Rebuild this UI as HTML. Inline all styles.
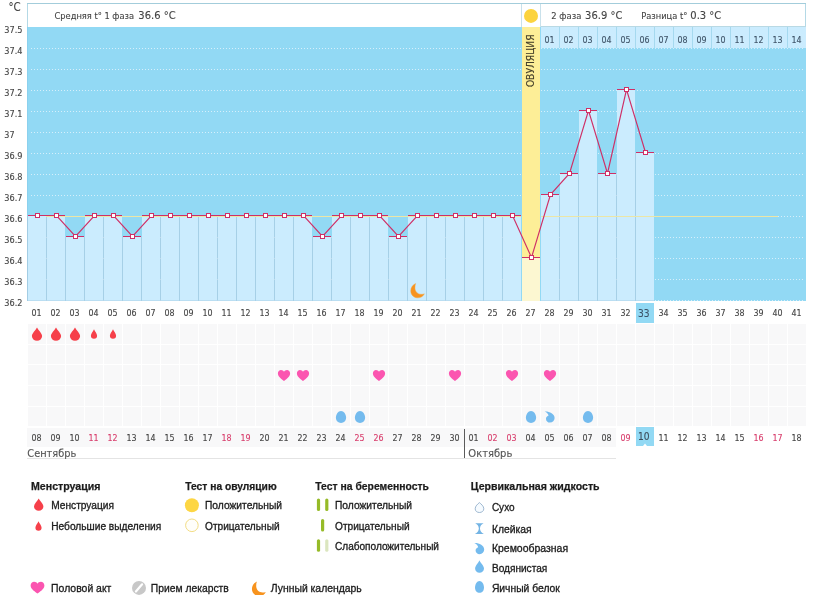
<!DOCTYPE html>
<html lang="ru"><head><meta charset="utf-8"><title>График базальной температуры</title>
<style>html,body{margin:0;padding:0;background:#fff}body{width:815px;height:595px;overflow:hidden}svg{display:block}</style></head><body>
<svg width="815" height="595" viewBox="0 0 815 595">
<rect x="0" y="0" width="815" height="595" fill="#fff"/>
<g shape-rendering="crispEdges">
<rect x="27" y="3" width="779" height="24" fill="#fff"/>
<rect x="27" y="3" width="779" height="1" fill="#a3cddb"/>
<rect x="27" y="4" width="1" height="23" fill="#b4d9e6"/>
<rect x="805" y="4" width="1" height="23" fill="#b4d9e6"/>
<rect x="521" y="4" width="1" height="23" fill="#c9e1eb"/>
<rect x="540" y="4" width="1" height="23" fill="#c9e1eb"/>
<rect x="541" y="26" width="265" height="1" fill="#b9d9e4"/>
<rect x="27" y="27" width="779" height="274" fill="#92d9f4"/>
<rect x="27" y="27" width="1" height="274" fill="#8bd1ee"/>
<rect x="522" y="27" width="18" height="274" fill="#fdee97"/>
<rect x="541" y="27" width="265" height="21" fill="#cbecfe"/>
<rect x="559" y="27" width="1" height="21" fill="#a5d9ef"/>
<rect x="578" y="27" width="1" height="21" fill="#a5d9ef"/>
<rect x="597" y="27" width="1" height="21" fill="#a5d9ef"/>
<rect x="616" y="27" width="1" height="21" fill="#a5d9ef"/>
<rect x="635" y="27" width="1" height="21" fill="#a5d9ef"/>
<rect x="654" y="27" width="1" height="21" fill="#a5d9ef"/>
<rect x="673" y="27" width="1" height="21" fill="#a5d9ef"/>
<rect x="692" y="27" width="1" height="21" fill="#a5d9ef"/>
<rect x="711" y="27" width="1" height="21" fill="#a5d9ef"/>
<rect x="730" y="27" width="1" height="21" fill="#a5d9ef"/>
<rect x="749" y="27" width="1" height="21" fill="#a5d9ef"/>
<rect x="768" y="27" width="1" height="21" fill="#a5d9ef"/>
<rect x="787" y="27" width="1" height="21" fill="#a5d9ef"/>
<line x1="31" y1="48.5" x2="521" y2="48.5" stroke="#d6effb" stroke-width="1" stroke-dasharray="1 2"/>
<line x1="541" y1="48.5" x2="804" y2="48.5" stroke="#d6effb" stroke-width="1" stroke-dasharray="1 2"/>
<line x1="31" y1="69.5" x2="521" y2="69.5" stroke="#d6effb" stroke-width="1" stroke-dasharray="1 2"/>
<line x1="541" y1="69.5" x2="804" y2="69.5" stroke="#d6effb" stroke-width="1" stroke-dasharray="1 2"/>
<line x1="31" y1="90.5" x2="521" y2="90.5" stroke="#d6effb" stroke-width="1" stroke-dasharray="1 2"/>
<line x1="541" y1="90.5" x2="804" y2="90.5" stroke="#d6effb" stroke-width="1" stroke-dasharray="1 2"/>
<line x1="31" y1="111.5" x2="521" y2="111.5" stroke="#d6effb" stroke-width="1" stroke-dasharray="1 2"/>
<line x1="541" y1="111.5" x2="804" y2="111.5" stroke="#d6effb" stroke-width="1" stroke-dasharray="1 2"/>
<line x1="31" y1="132.5" x2="521" y2="132.5" stroke="#d6effb" stroke-width="1" stroke-dasharray="1 2"/>
<line x1="541" y1="132.5" x2="804" y2="132.5" stroke="#d6effb" stroke-width="1" stroke-dasharray="1 2"/>
<line x1="31" y1="153.5" x2="521" y2="153.5" stroke="#d6effb" stroke-width="1" stroke-dasharray="1 2"/>
<line x1="541" y1="153.5" x2="804" y2="153.5" stroke="#d6effb" stroke-width="1" stroke-dasharray="1 2"/>
<line x1="31" y1="174.5" x2="521" y2="174.5" stroke="#d6effb" stroke-width="1" stroke-dasharray="1 2"/>
<line x1="541" y1="174.5" x2="804" y2="174.5" stroke="#d6effb" stroke-width="1" stroke-dasharray="1 2"/>
<line x1="31" y1="195.5" x2="521" y2="195.5" stroke="#d6effb" stroke-width="1" stroke-dasharray="1 2"/>
<line x1="541" y1="195.5" x2="804" y2="195.5" stroke="#d6effb" stroke-width="1" stroke-dasharray="1 2"/>
<line x1="31" y1="216.5" x2="521" y2="216.5" stroke="#d6effb" stroke-width="1" stroke-dasharray="1 2"/>
<line x1="541" y1="216.5" x2="804" y2="216.5" stroke="#d6effb" stroke-width="1" stroke-dasharray="1 2"/>
<line x1="31" y1="237.5" x2="521" y2="237.5" stroke="#d6effb" stroke-width="1" stroke-dasharray="1 2"/>
<line x1="541" y1="237.5" x2="804" y2="237.5" stroke="#d6effb" stroke-width="1" stroke-dasharray="1 2"/>
<line x1="31" y1="258.5" x2="521" y2="258.5" stroke="#d6effb" stroke-width="1" stroke-dasharray="1 2"/>
<line x1="541" y1="258.5" x2="804" y2="258.5" stroke="#d6effb" stroke-width="1" stroke-dasharray="1 2"/>
<line x1="31" y1="279.5" x2="521" y2="279.5" stroke="#d6effb" stroke-width="1" stroke-dasharray="1 2"/>
<line x1="541" y1="279.5" x2="804" y2="279.5" stroke="#d6effb" stroke-width="1" stroke-dasharray="1 2"/>
<line x1="31" y1="300.5" x2="521" y2="300.5" stroke="#d6effb" stroke-width="1" stroke-dasharray="1 2"/>
<line x1="541" y1="300.5" x2="804" y2="300.5" stroke="#d6effb" stroke-width="1" stroke-dasharray="1 2"/>
<rect x="46" y="216" width="475" height="1" fill="#e9e3a4"/>
<rect x="28" y="216" width="18" height="85" fill="#cbecfe"/>
<rect x="47" y="216" width="18" height="85" fill="#cbecfe"/>
<rect x="66" y="237" width="18" height="64" fill="#cbecfe"/>
<rect x="85" y="216" width="18" height="85" fill="#cbecfe"/>
<rect x="104" y="216" width="18" height="85" fill="#cbecfe"/>
<rect x="123" y="237" width="18" height="64" fill="#cbecfe"/>
<rect x="142" y="216" width="18" height="85" fill="#cbecfe"/>
<rect x="161" y="216" width="18" height="85" fill="#cbecfe"/>
<rect x="180" y="216" width="18" height="85" fill="#cbecfe"/>
<rect x="199" y="216" width="18" height="85" fill="#cbecfe"/>
<rect x="218" y="216" width="18" height="85" fill="#cbecfe"/>
<rect x="237" y="216" width="18" height="85" fill="#cbecfe"/>
<rect x="256" y="216" width="18" height="85" fill="#cbecfe"/>
<rect x="275" y="216" width="18" height="85" fill="#cbecfe"/>
<rect x="294" y="216" width="18" height="85" fill="#cbecfe"/>
<rect x="313" y="237" width="18" height="64" fill="#cbecfe"/>
<rect x="332" y="216" width="18" height="85" fill="#cbecfe"/>
<rect x="351" y="216" width="18" height="85" fill="#cbecfe"/>
<rect x="370" y="216" width="18" height="85" fill="#cbecfe"/>
<rect x="389" y="237" width="18" height="64" fill="#cbecfe"/>
<rect x="408" y="216" width="18" height="85" fill="#cbecfe"/>
<rect x="427" y="216" width="18" height="85" fill="#cbecfe"/>
<rect x="446" y="216" width="18" height="85" fill="#cbecfe"/>
<rect x="465" y="216" width="18" height="85" fill="#cbecfe"/>
<rect x="484" y="216" width="18" height="85" fill="#cbecfe"/>
<rect x="503" y="216" width="18" height="85" fill="#cbecfe"/>
<rect x="522" y="258" width="18" height="43" fill="#fcf7d1"/>
<rect x="541" y="195" width="18" height="106" fill="#cbecfe"/>
<rect x="560" y="174" width="18" height="127" fill="#cbecfe"/>
<rect x="579" y="111" width="18" height="190" fill="#cbecfe"/>
<rect x="598" y="174" width="18" height="127" fill="#cbecfe"/>
<rect x="617" y="90" width="18" height="211" fill="#cbecfe"/>
<rect x="636" y="153" width="18" height="148" fill="#cbecfe"/>
<rect x="46" y="216" width="1" height="85" fill="#b4cadd" opacity="0.6"/>
<rect x="65" y="237" width="1" height="64" fill="#b4cadd" opacity="0.6"/>
<rect x="84" y="237" width="1" height="64" fill="#b4cadd" opacity="0.6"/>
<rect x="103" y="216" width="1" height="85" fill="#b4cadd" opacity="0.6"/>
<rect x="122" y="237" width="1" height="64" fill="#b4cadd" opacity="0.6"/>
<rect x="141" y="237" width="1" height="64" fill="#b4cadd" opacity="0.6"/>
<rect x="160" y="216" width="1" height="85" fill="#b4cadd" opacity="0.6"/>
<rect x="179" y="216" width="1" height="85" fill="#b4cadd" opacity="0.6"/>
<rect x="198" y="216" width="1" height="85" fill="#b4cadd" opacity="0.6"/>
<rect x="217" y="216" width="1" height="85" fill="#b4cadd" opacity="0.6"/>
<rect x="236" y="216" width="1" height="85" fill="#b4cadd" opacity="0.6"/>
<rect x="255" y="216" width="1" height="85" fill="#b4cadd" opacity="0.6"/>
<rect x="274" y="216" width="1" height="85" fill="#b4cadd" opacity="0.6"/>
<rect x="293" y="216" width="1" height="85" fill="#b4cadd" opacity="0.6"/>
<rect x="312" y="237" width="1" height="64" fill="#b4cadd" opacity="0.6"/>
<rect x="331" y="237" width="1" height="64" fill="#b4cadd" opacity="0.6"/>
<rect x="350" y="216" width="1" height="85" fill="#b4cadd" opacity="0.6"/>
<rect x="369" y="216" width="1" height="85" fill="#b4cadd" opacity="0.6"/>
<rect x="388" y="237" width="1" height="64" fill="#b4cadd" opacity="0.6"/>
<rect x="407" y="237" width="1" height="64" fill="#b4cadd" opacity="0.6"/>
<rect x="426" y="216" width="1" height="85" fill="#b4cadd" opacity="0.6"/>
<rect x="445" y="216" width="1" height="85" fill="#b4cadd" opacity="0.6"/>
<rect x="464" y="216" width="1" height="85" fill="#b4cadd" opacity="0.6"/>
<rect x="483" y="216" width="1" height="85" fill="#b4cadd" opacity="0.6"/>
<rect x="502" y="216" width="1" height="85" fill="#b4cadd" opacity="0.6"/>
<rect x="559" y="195" width="1" height="106" fill="#b4cadd" opacity="0.6"/>
<rect x="578" y="174" width="1" height="127" fill="#b4cadd" opacity="0.6"/>
<rect x="597" y="174" width="1" height="127" fill="#b4cadd" opacity="0.6"/>
<rect x="616" y="174" width="1" height="127" fill="#b4cadd" opacity="0.6"/>
<rect x="635" y="153" width="1" height="148" fill="#b4cadd" opacity="0.6"/>
<rect x="27" y="216" width="1" height="85" fill="#b4cadd" opacity="0.6"/>
<rect x="28" y="300" width="493" height="1" fill="#a9cfe6" opacity="0.5"/>
<rect x="541" y="300" width="113" height="1" fill="#a9cfe6" opacity="0.5"/>
<rect x="46" y="216" width="475" height="1" fill="#ece6a6"/>
<rect x="541" y="216" width="237" height="1" fill="#ece6a6"/>
<rect x="28" y="215" width="18" height="1" fill="#cf2f66"/>
<rect x="47" y="215" width="18" height="1" fill="#cf2f66"/>
<rect x="66" y="236" width="18" height="1" fill="#cf2f66"/>
<rect x="85" y="215" width="18" height="1" fill="#cf2f66"/>
<rect x="104" y="215" width="18" height="1" fill="#cf2f66"/>
<rect x="123" y="236" width="18" height="1" fill="#cf2f66"/>
<rect x="142" y="215" width="18" height="1" fill="#cf2f66"/>
<rect x="161" y="215" width="18" height="1" fill="#cf2f66"/>
<rect x="180" y="215" width="18" height="1" fill="#cf2f66"/>
<rect x="199" y="215" width="18" height="1" fill="#cf2f66"/>
<rect x="218" y="215" width="18" height="1" fill="#cf2f66"/>
<rect x="237" y="215" width="18" height="1" fill="#cf2f66"/>
<rect x="256" y="215" width="18" height="1" fill="#cf2f66"/>
<rect x="275" y="215" width="18" height="1" fill="#cf2f66"/>
<rect x="294" y="215" width="18" height="1" fill="#cf2f66"/>
<rect x="313" y="236" width="18" height="1" fill="#cf2f66"/>
<rect x="332" y="215" width="18" height="1" fill="#cf2f66"/>
<rect x="351" y="215" width="18" height="1" fill="#cf2f66"/>
<rect x="370" y="215" width="18" height="1" fill="#cf2f66"/>
<rect x="389" y="236" width="18" height="1" fill="#cf2f66"/>
<rect x="408" y="215" width="18" height="1" fill="#cf2f66"/>
<rect x="427" y="215" width="18" height="1" fill="#cf2f66"/>
<rect x="446" y="215" width="18" height="1" fill="#cf2f66"/>
<rect x="465" y="215" width="18" height="1" fill="#cf2f66"/>
<rect x="484" y="215" width="18" height="1" fill="#cf2f66"/>
<rect x="503" y="215" width="18" height="1" fill="#cf2f66"/>
<rect x="522" y="257" width="18" height="1" fill="#cf2f66"/>
<rect x="541" y="194" width="18" height="1" fill="#cf2f66"/>
<rect x="560" y="173" width="18" height="1" fill="#cf2f66"/>
<rect x="579" y="110" width="18" height="1" fill="#cf2f66"/>
<rect x="598" y="173" width="18" height="1" fill="#cf2f66"/>
<rect x="617" y="89" width="18" height="1" fill="#cf2f66"/>
<rect x="636" y="152" width="18" height="1" fill="#cf2f66"/>
</g>
<polyline points="37.5,215.5 56.5,215.5 75.5,236.5 94.5,215.5 113.5,215.5 132.5,236.5 151.5,215.5 170.5,215.5 189.5,215.5 208.5,215.5 227.5,215.5 246.5,215.5 265.5,215.5 284.5,215.5 303.5,215.5 322.5,236.5 341.5,215.5 360.5,215.5 379.5,215.5 398.5,236.5 417.5,215.5 436.5,215.5 455.5,215.5 474.5,215.5 493.5,215.5 512.5,215.5 531.5,257.5 550.5,194.5 569.5,173.5 588.5,110.5 607.5,173.5 626.5,89.5 645.5,152.5" fill="none" stroke="#cf2f66" stroke-width="1.15"/>
<g fill="#fff" stroke="#cf2f66" stroke-width="1" shape-rendering="crispEdges">
<rect x="35.5" y="213.5" width="4" height="4"/>
<rect x="54.5" y="213.5" width="4" height="4"/>
<rect x="73.5" y="234.5" width="4" height="4"/>
<rect x="92.5" y="213.5" width="4" height="4"/>
<rect x="111.5" y="213.5" width="4" height="4"/>
<rect x="130.5" y="234.5" width="4" height="4"/>
<rect x="149.5" y="213.5" width="4" height="4"/>
<rect x="168.5" y="213.5" width="4" height="4"/>
<rect x="187.5" y="213.5" width="4" height="4"/>
<rect x="206.5" y="213.5" width="4" height="4"/>
<rect x="225.5" y="213.5" width="4" height="4"/>
<rect x="244.5" y="213.5" width="4" height="4"/>
<rect x="263.5" y="213.5" width="4" height="4"/>
<rect x="282.5" y="213.5" width="4" height="4"/>
<rect x="301.5" y="213.5" width="4" height="4"/>
<rect x="320.5" y="234.5" width="4" height="4"/>
<rect x="339.5" y="213.5" width="4" height="4"/>
<rect x="358.5" y="213.5" width="4" height="4"/>
<rect x="377.5" y="213.5" width="4" height="4"/>
<rect x="396.5" y="234.5" width="4" height="4"/>
<rect x="415.5" y="213.5" width="4" height="4"/>
<rect x="434.5" y="213.5" width="4" height="4"/>
<rect x="453.5" y="213.5" width="4" height="4"/>
<rect x="472.5" y="213.5" width="4" height="4"/>
<rect x="491.5" y="213.5" width="4" height="4"/>
<rect x="510.5" y="213.5" width="4" height="4"/>
<rect x="529.5" y="255.5" width="4" height="4"/>
<rect x="548.5" y="192.5" width="4" height="4"/>
<rect x="567.5" y="171.5" width="4" height="4"/>
<rect x="586.5" y="108.5" width="4" height="4"/>
<rect x="605.5" y="171.5" width="4" height="4"/>
<rect x="624.5" y="87.5" width="4" height="4"/>
<rect x="643.5" y="150.5" width="4" height="4"/>
</g>
<text x="8.4" y="10.8" font-size="11.6" fill="#444" stroke="#444" stroke-width="0.12" font-family="DejaVu Sans Condensed, DejaVu Sans, Liberation Sans, sans-serif" textLength="12.2" lengthAdjust="spacingAndGlyphs">°C</text>
<text x="4.3" y="33" font-size="9.5" fill="#444" stroke="#444" stroke-width="0.12" font-family="DejaVu Sans Condensed, DejaVu Sans, Liberation Sans, sans-serif" textLength="18.2" lengthAdjust="spacingAndGlyphs">37.5</text>
<text x="4.3" y="54" font-size="9.5" fill="#444" stroke="#444" stroke-width="0.12" font-family="DejaVu Sans Condensed, DejaVu Sans, Liberation Sans, sans-serif" textLength="18.2" lengthAdjust="spacingAndGlyphs">37.4</text>
<text x="4.3" y="75" font-size="9.5" fill="#444" stroke="#444" stroke-width="0.12" font-family="DejaVu Sans Condensed, DejaVu Sans, Liberation Sans, sans-serif" textLength="18.2" lengthAdjust="spacingAndGlyphs">37.3</text>
<text x="4.3" y="96" font-size="9.5" fill="#444" stroke="#444" stroke-width="0.12" font-family="DejaVu Sans Condensed, DejaVu Sans, Liberation Sans, sans-serif" textLength="18.2" lengthAdjust="spacingAndGlyphs">37.2</text>
<text x="4.3" y="117" font-size="9.5" fill="#444" stroke="#444" stroke-width="0.12" font-family="DejaVu Sans Condensed, DejaVu Sans, Liberation Sans, sans-serif" textLength="18.2" lengthAdjust="spacingAndGlyphs">37.1</text>
<text x="4.3" y="138" font-size="9.5" fill="#444" stroke="#444" stroke-width="0.12" font-family="DejaVu Sans Condensed, DejaVu Sans, Liberation Sans, sans-serif" textLength="10.2" lengthAdjust="spacingAndGlyphs">37</text>
<text x="4.3" y="159" font-size="9.5" fill="#444" stroke="#444" stroke-width="0.12" font-family="DejaVu Sans Condensed, DejaVu Sans, Liberation Sans, sans-serif" textLength="18.2" lengthAdjust="spacingAndGlyphs">36.9</text>
<text x="4.3" y="180" font-size="9.5" fill="#444" stroke="#444" stroke-width="0.12" font-family="DejaVu Sans Condensed, DejaVu Sans, Liberation Sans, sans-serif" textLength="18.2" lengthAdjust="spacingAndGlyphs">36.8</text>
<text x="4.3" y="201" font-size="9.5" fill="#444" stroke="#444" stroke-width="0.12" font-family="DejaVu Sans Condensed, DejaVu Sans, Liberation Sans, sans-serif" textLength="18.2" lengthAdjust="spacingAndGlyphs">36.7</text>
<text x="4.3" y="222" font-size="9.5" fill="#444" stroke="#444" stroke-width="0.12" font-family="DejaVu Sans Condensed, DejaVu Sans, Liberation Sans, sans-serif" textLength="18.2" lengthAdjust="spacingAndGlyphs">36.6</text>
<text x="4.3" y="243" font-size="9.5" fill="#444" stroke="#444" stroke-width="0.12" font-family="DejaVu Sans Condensed, DejaVu Sans, Liberation Sans, sans-serif" textLength="18.2" lengthAdjust="spacingAndGlyphs">36.5</text>
<text x="4.3" y="264" font-size="9.5" fill="#444" stroke="#444" stroke-width="0.12" font-family="DejaVu Sans Condensed, DejaVu Sans, Liberation Sans, sans-serif" textLength="18.2" lengthAdjust="spacingAndGlyphs">36.4</text>
<text x="4.3" y="285" font-size="9.5" fill="#444" stroke="#444" stroke-width="0.12" font-family="DejaVu Sans Condensed, DejaVu Sans, Liberation Sans, sans-serif" textLength="18.2" lengthAdjust="spacingAndGlyphs">36.3</text>
<text x="4.3" y="306" font-size="9.5" fill="#444" stroke="#444" stroke-width="0.12" font-family="DejaVu Sans Condensed, DejaVu Sans, Liberation Sans, sans-serif" textLength="18.2" lengthAdjust="spacingAndGlyphs">36.2</text>
<text x="54.5" y="19" font-size="9.5" fill="#444" stroke="#444" stroke-width="0.12" font-family="DejaVu Sans Condensed, DejaVu Sans, Liberation Sans, sans-serif" textLength="79.5" lengthAdjust="spacingAndGlyphs">Средняя t° 1 фаза</text>
<text x="138.3" y="19" font-size="11" fill="#444" stroke="#444" stroke-width="0.12" font-family="DejaVu Sans Condensed, DejaVu Sans, Liberation Sans, sans-serif" textLength="37.3" lengthAdjust="spacingAndGlyphs">36.6 °C</text>
<text x="551.3" y="19" font-size="9.5" fill="#444" stroke="#444" stroke-width="0.12" font-family="DejaVu Sans Condensed, DejaVu Sans, Liberation Sans, sans-serif" textLength="30" lengthAdjust="spacingAndGlyphs">2 фаза</text>
<text x="585.1" y="19" font-size="11" fill="#444" stroke="#444" stroke-width="0.12" font-family="DejaVu Sans Condensed, DejaVu Sans, Liberation Sans, sans-serif" textLength="37.3" lengthAdjust="spacingAndGlyphs">36.9 °C</text>
<text x="641.3" y="19" font-size="9.5" fill="#444" stroke="#444" stroke-width="0.12" font-family="DejaVu Sans Condensed, DejaVu Sans, Liberation Sans, sans-serif" textLength="46" lengthAdjust="spacingAndGlyphs">Разница t°</text>
<text x="690.3" y="19" font-size="11" fill="#444" stroke="#444" stroke-width="0.12" font-family="DejaVu Sans Condensed, DejaVu Sans, Liberation Sans, sans-serif" textLength="31" lengthAdjust="spacingAndGlyphs">0.3 °C</text>
<circle cx="531" cy="15.9" r="7" fill="#fcd33e"/>
<text x="0" y="0" font-size="9.7" fill="#443f2a" stroke="#443f2a" stroke-width="0.12" font-family="DejaVu Sans Condensed, DejaVu Sans, Liberation Sans, sans-serif" textLength="52.6" lengthAdjust="spacingAndGlyphs" transform="translate(534,87.1) rotate(-90)">ОВУЛЯЦИЯ</text>
<text x="549.6" y="43.3" font-size="9.5" fill="#3f5468" stroke="#3f5468" stroke-width="0.12" font-family="DejaVu Sans Condensed, DejaVu Sans, Liberation Sans, sans-serif" textLength="10.1" lengthAdjust="spacingAndGlyphs" text-anchor="middle">01</text>
<text x="568.6" y="43.3" font-size="9.5" fill="#3f5468" stroke="#3f5468" stroke-width="0.12" font-family="DejaVu Sans Condensed, DejaVu Sans, Liberation Sans, sans-serif" textLength="10.1" lengthAdjust="spacingAndGlyphs" text-anchor="middle">02</text>
<text x="587.6" y="43.3" font-size="9.5" fill="#3f5468" stroke="#3f5468" stroke-width="0.12" font-family="DejaVu Sans Condensed, DejaVu Sans, Liberation Sans, sans-serif" textLength="10.1" lengthAdjust="spacingAndGlyphs" text-anchor="middle">03</text>
<text x="606.6" y="43.3" font-size="9.5" fill="#3f5468" stroke="#3f5468" stroke-width="0.12" font-family="DejaVu Sans Condensed, DejaVu Sans, Liberation Sans, sans-serif" textLength="10.1" lengthAdjust="spacingAndGlyphs" text-anchor="middle">04</text>
<text x="625.6" y="43.3" font-size="9.5" fill="#3f5468" stroke="#3f5468" stroke-width="0.12" font-family="DejaVu Sans Condensed, DejaVu Sans, Liberation Sans, sans-serif" textLength="10.1" lengthAdjust="spacingAndGlyphs" text-anchor="middle">05</text>
<text x="644.6" y="43.3" font-size="9.5" fill="#3f5468" stroke="#3f5468" stroke-width="0.12" font-family="DejaVu Sans Condensed, DejaVu Sans, Liberation Sans, sans-serif" textLength="10.1" lengthAdjust="spacingAndGlyphs" text-anchor="middle">06</text>
<text x="663.6" y="43.3" font-size="9.5" fill="#3f5468" stroke="#3f5468" stroke-width="0.12" font-family="DejaVu Sans Condensed, DejaVu Sans, Liberation Sans, sans-serif" textLength="10.1" lengthAdjust="spacingAndGlyphs" text-anchor="middle">07</text>
<text x="682.6" y="43.3" font-size="9.5" fill="#3f5468" stroke="#3f5468" stroke-width="0.12" font-family="DejaVu Sans Condensed, DejaVu Sans, Liberation Sans, sans-serif" textLength="10.1" lengthAdjust="spacingAndGlyphs" text-anchor="middle">08</text>
<text x="701.6" y="43.3" font-size="9.5" fill="#3f5468" stroke="#3f5468" stroke-width="0.12" font-family="DejaVu Sans Condensed, DejaVu Sans, Liberation Sans, sans-serif" textLength="10.1" lengthAdjust="spacingAndGlyphs" text-anchor="middle">09</text>
<text x="720.6" y="43.3" font-size="9.5" fill="#3f5468" stroke="#3f5468" stroke-width="0.12" font-family="DejaVu Sans Condensed, DejaVu Sans, Liberation Sans, sans-serif" textLength="10.1" lengthAdjust="spacingAndGlyphs" text-anchor="middle">10</text>
<text x="739.6" y="43.3" font-size="9.5" fill="#3f5468" stroke="#3f5468" stroke-width="0.12" font-family="DejaVu Sans Condensed, DejaVu Sans, Liberation Sans, sans-serif" textLength="10.1" lengthAdjust="spacingAndGlyphs" text-anchor="middle">11</text>
<text x="758.6" y="43.3" font-size="9.5" fill="#3f5468" stroke="#3f5468" stroke-width="0.12" font-family="DejaVu Sans Condensed, DejaVu Sans, Liberation Sans, sans-serif" textLength="10.1" lengthAdjust="spacingAndGlyphs" text-anchor="middle">12</text>
<text x="777.6" y="43.3" font-size="9.5" fill="#3f5468" stroke="#3f5468" stroke-width="0.12" font-family="DejaVu Sans Condensed, DejaVu Sans, Liberation Sans, sans-serif" textLength="10.1" lengthAdjust="spacingAndGlyphs" text-anchor="middle">13</text>
<text x="796.6" y="43.3" font-size="9.5" fill="#3f5468" stroke="#3f5468" stroke-width="0.12" font-family="DejaVu Sans Condensed, DejaVu Sans, Liberation Sans, sans-serif" textLength="10.1" lengthAdjust="spacingAndGlyphs" text-anchor="middle">14</text>
<rect x="636" y="303" width="18" height="20" fill="#92d9f4" shape-rendering="crispEdges"/>
<text x="36.6" y="316" font-size="9.5" fill="#444" stroke="#444" stroke-width="0.12" font-family="DejaVu Sans Condensed, DejaVu Sans, Liberation Sans, sans-serif" textLength="10.1" lengthAdjust="spacingAndGlyphs" text-anchor="middle">01</text>
<text x="55.6" y="316" font-size="9.5" fill="#444" stroke="#444" stroke-width="0.12" font-family="DejaVu Sans Condensed, DejaVu Sans, Liberation Sans, sans-serif" textLength="10.1" lengthAdjust="spacingAndGlyphs" text-anchor="middle">02</text>
<text x="74.6" y="316" font-size="9.5" fill="#444" stroke="#444" stroke-width="0.12" font-family="DejaVu Sans Condensed, DejaVu Sans, Liberation Sans, sans-serif" textLength="10.1" lengthAdjust="spacingAndGlyphs" text-anchor="middle">03</text>
<text x="93.6" y="316" font-size="9.5" fill="#444" stroke="#444" stroke-width="0.12" font-family="DejaVu Sans Condensed, DejaVu Sans, Liberation Sans, sans-serif" textLength="10.1" lengthAdjust="spacingAndGlyphs" text-anchor="middle">04</text>
<text x="112.6" y="316" font-size="9.5" fill="#444" stroke="#444" stroke-width="0.12" font-family="DejaVu Sans Condensed, DejaVu Sans, Liberation Sans, sans-serif" textLength="10.1" lengthAdjust="spacingAndGlyphs" text-anchor="middle">05</text>
<text x="131.6" y="316" font-size="9.5" fill="#444" stroke="#444" stroke-width="0.12" font-family="DejaVu Sans Condensed, DejaVu Sans, Liberation Sans, sans-serif" textLength="10.1" lengthAdjust="spacingAndGlyphs" text-anchor="middle">06</text>
<text x="150.6" y="316" font-size="9.5" fill="#444" stroke="#444" stroke-width="0.12" font-family="DejaVu Sans Condensed, DejaVu Sans, Liberation Sans, sans-serif" textLength="10.1" lengthAdjust="spacingAndGlyphs" text-anchor="middle">07</text>
<text x="169.6" y="316" font-size="9.5" fill="#444" stroke="#444" stroke-width="0.12" font-family="DejaVu Sans Condensed, DejaVu Sans, Liberation Sans, sans-serif" textLength="10.1" lengthAdjust="spacingAndGlyphs" text-anchor="middle">08</text>
<text x="188.6" y="316" font-size="9.5" fill="#444" stroke="#444" stroke-width="0.12" font-family="DejaVu Sans Condensed, DejaVu Sans, Liberation Sans, sans-serif" textLength="10.1" lengthAdjust="spacingAndGlyphs" text-anchor="middle">09</text>
<text x="207.6" y="316" font-size="9.5" fill="#444" stroke="#444" stroke-width="0.12" font-family="DejaVu Sans Condensed, DejaVu Sans, Liberation Sans, sans-serif" textLength="10.1" lengthAdjust="spacingAndGlyphs" text-anchor="middle">10</text>
<text x="226.6" y="316" font-size="9.5" fill="#444" stroke="#444" stroke-width="0.12" font-family="DejaVu Sans Condensed, DejaVu Sans, Liberation Sans, sans-serif" textLength="10.1" lengthAdjust="spacingAndGlyphs" text-anchor="middle">11</text>
<text x="245.6" y="316" font-size="9.5" fill="#444" stroke="#444" stroke-width="0.12" font-family="DejaVu Sans Condensed, DejaVu Sans, Liberation Sans, sans-serif" textLength="10.1" lengthAdjust="spacingAndGlyphs" text-anchor="middle">12</text>
<text x="264.6" y="316" font-size="9.5" fill="#444" stroke="#444" stroke-width="0.12" font-family="DejaVu Sans Condensed, DejaVu Sans, Liberation Sans, sans-serif" textLength="10.1" lengthAdjust="spacingAndGlyphs" text-anchor="middle">13</text>
<text x="283.6" y="316" font-size="9.5" fill="#444" stroke="#444" stroke-width="0.12" font-family="DejaVu Sans Condensed, DejaVu Sans, Liberation Sans, sans-serif" textLength="10.1" lengthAdjust="spacingAndGlyphs" text-anchor="middle">14</text>
<text x="302.6" y="316" font-size="9.5" fill="#444" stroke="#444" stroke-width="0.12" font-family="DejaVu Sans Condensed, DejaVu Sans, Liberation Sans, sans-serif" textLength="10.1" lengthAdjust="spacingAndGlyphs" text-anchor="middle">15</text>
<text x="321.6" y="316" font-size="9.5" fill="#444" stroke="#444" stroke-width="0.12" font-family="DejaVu Sans Condensed, DejaVu Sans, Liberation Sans, sans-serif" textLength="10.1" lengthAdjust="spacingAndGlyphs" text-anchor="middle">16</text>
<text x="340.6" y="316" font-size="9.5" fill="#444" stroke="#444" stroke-width="0.12" font-family="DejaVu Sans Condensed, DejaVu Sans, Liberation Sans, sans-serif" textLength="10.1" lengthAdjust="spacingAndGlyphs" text-anchor="middle">17</text>
<text x="359.6" y="316" font-size="9.5" fill="#444" stroke="#444" stroke-width="0.12" font-family="DejaVu Sans Condensed, DejaVu Sans, Liberation Sans, sans-serif" textLength="10.1" lengthAdjust="spacingAndGlyphs" text-anchor="middle">18</text>
<text x="378.6" y="316" font-size="9.5" fill="#444" stroke="#444" stroke-width="0.12" font-family="DejaVu Sans Condensed, DejaVu Sans, Liberation Sans, sans-serif" textLength="10.1" lengthAdjust="spacingAndGlyphs" text-anchor="middle">19</text>
<text x="397.6" y="316" font-size="9.5" fill="#444" stroke="#444" stroke-width="0.12" font-family="DejaVu Sans Condensed, DejaVu Sans, Liberation Sans, sans-serif" textLength="10.1" lengthAdjust="spacingAndGlyphs" text-anchor="middle">20</text>
<text x="416.6" y="316" font-size="9.5" fill="#444" stroke="#444" stroke-width="0.12" font-family="DejaVu Sans Condensed, DejaVu Sans, Liberation Sans, sans-serif" textLength="10.1" lengthAdjust="spacingAndGlyphs" text-anchor="middle">21</text>
<text x="435.6" y="316" font-size="9.5" fill="#444" stroke="#444" stroke-width="0.12" font-family="DejaVu Sans Condensed, DejaVu Sans, Liberation Sans, sans-serif" textLength="10.1" lengthAdjust="spacingAndGlyphs" text-anchor="middle">22</text>
<text x="454.6" y="316" font-size="9.5" fill="#444" stroke="#444" stroke-width="0.12" font-family="DejaVu Sans Condensed, DejaVu Sans, Liberation Sans, sans-serif" textLength="10.1" lengthAdjust="spacingAndGlyphs" text-anchor="middle">23</text>
<text x="473.6" y="316" font-size="9.5" fill="#444" stroke="#444" stroke-width="0.12" font-family="DejaVu Sans Condensed, DejaVu Sans, Liberation Sans, sans-serif" textLength="10.1" lengthAdjust="spacingAndGlyphs" text-anchor="middle">24</text>
<text x="492.6" y="316" font-size="9.5" fill="#444" stroke="#444" stroke-width="0.12" font-family="DejaVu Sans Condensed, DejaVu Sans, Liberation Sans, sans-serif" textLength="10.1" lengthAdjust="spacingAndGlyphs" text-anchor="middle">25</text>
<text x="511.6" y="316" font-size="9.5" fill="#444" stroke="#444" stroke-width="0.12" font-family="DejaVu Sans Condensed, DejaVu Sans, Liberation Sans, sans-serif" textLength="10.1" lengthAdjust="spacingAndGlyphs" text-anchor="middle">26</text>
<text x="530.6" y="316" font-size="9.5" fill="#444" stroke="#444" stroke-width="0.12" font-family="DejaVu Sans Condensed, DejaVu Sans, Liberation Sans, sans-serif" textLength="10.1" lengthAdjust="spacingAndGlyphs" text-anchor="middle">27</text>
<text x="549.6" y="316" font-size="9.5" fill="#444" stroke="#444" stroke-width="0.12" font-family="DejaVu Sans Condensed, DejaVu Sans, Liberation Sans, sans-serif" textLength="10.1" lengthAdjust="spacingAndGlyphs" text-anchor="middle">28</text>
<text x="568.6" y="316" font-size="9.5" fill="#444" stroke="#444" stroke-width="0.12" font-family="DejaVu Sans Condensed, DejaVu Sans, Liberation Sans, sans-serif" textLength="10.1" lengthAdjust="spacingAndGlyphs" text-anchor="middle">29</text>
<text x="587.6" y="316" font-size="9.5" fill="#444" stroke="#444" stroke-width="0.12" font-family="DejaVu Sans Condensed, DejaVu Sans, Liberation Sans, sans-serif" textLength="10.1" lengthAdjust="spacingAndGlyphs" text-anchor="middle">30</text>
<text x="606.6" y="316" font-size="9.5" fill="#444" stroke="#444" stroke-width="0.12" font-family="DejaVu Sans Condensed, DejaVu Sans, Liberation Sans, sans-serif" textLength="10.1" lengthAdjust="spacingAndGlyphs" text-anchor="middle">31</text>
<text x="625.6" y="316" font-size="9.5" fill="#444" stroke="#444" stroke-width="0.12" font-family="DejaVu Sans Condensed, DejaVu Sans, Liberation Sans, sans-serif" textLength="10.1" lengthAdjust="spacingAndGlyphs" text-anchor="middle">32</text>
<text x="637.9" y="316.5" font-size="11" fill="#3d5468" stroke="#3d5468" stroke-width="0.12" font-family="DejaVu Sans Condensed, DejaVu Sans, Liberation Sans, sans-serif" textLength="11.6" lengthAdjust="spacingAndGlyphs">33</text>
<text x="663.6" y="316" font-size="9.5" fill="#444" stroke="#444" stroke-width="0.12" font-family="DejaVu Sans Condensed, DejaVu Sans, Liberation Sans, sans-serif" textLength="10.1" lengthAdjust="spacingAndGlyphs" text-anchor="middle">34</text>
<text x="682.6" y="316" font-size="9.5" fill="#444" stroke="#444" stroke-width="0.12" font-family="DejaVu Sans Condensed, DejaVu Sans, Liberation Sans, sans-serif" textLength="10.1" lengthAdjust="spacingAndGlyphs" text-anchor="middle">35</text>
<text x="701.6" y="316" font-size="9.5" fill="#444" stroke="#444" stroke-width="0.12" font-family="DejaVu Sans Condensed, DejaVu Sans, Liberation Sans, sans-serif" textLength="10.1" lengthAdjust="spacingAndGlyphs" text-anchor="middle">36</text>
<text x="720.6" y="316" font-size="9.5" fill="#444" stroke="#444" stroke-width="0.12" font-family="DejaVu Sans Condensed, DejaVu Sans, Liberation Sans, sans-serif" textLength="10.1" lengthAdjust="spacingAndGlyphs" text-anchor="middle">37</text>
<text x="739.6" y="316" font-size="9.5" fill="#444" stroke="#444" stroke-width="0.12" font-family="DejaVu Sans Condensed, DejaVu Sans, Liberation Sans, sans-serif" textLength="10.1" lengthAdjust="spacingAndGlyphs" text-anchor="middle">38</text>
<text x="758.6" y="316" font-size="9.5" fill="#444" stroke="#444" stroke-width="0.12" font-family="DejaVu Sans Condensed, DejaVu Sans, Liberation Sans, sans-serif" textLength="10.1" lengthAdjust="spacingAndGlyphs" text-anchor="middle">39</text>
<text x="777.6" y="316" font-size="9.5" fill="#444" stroke="#444" stroke-width="0.12" font-family="DejaVu Sans Condensed, DejaVu Sans, Liberation Sans, sans-serif" textLength="10.1" lengthAdjust="spacingAndGlyphs" text-anchor="middle">40</text>
<text x="796.6" y="316" font-size="9.5" fill="#444" stroke="#444" stroke-width="0.12" font-family="DejaVu Sans Condensed, DejaVu Sans, Liberation Sans, sans-serif" textLength="10.1" lengthAdjust="spacingAndGlyphs" text-anchor="middle">41</text>
<g shape-rendering="crispEdges">
<rect x="27" y="323" width="779" height="103" fill="#f8f8f9"/>
<rect x="27" y="428" width="589" height="19" fill="#f8f8f9"/>
<rect x="27" y="323" width="1" height="103" fill="#fff"/>
<rect x="46" y="323" width="1" height="103" fill="#fff"/>
<rect x="65" y="323" width="1" height="103" fill="#fff"/>
<rect x="84" y="323" width="1" height="103" fill="#fff"/>
<rect x="103" y="323" width="1" height="103" fill="#fff"/>
<rect x="122" y="323" width="1" height="103" fill="#fff"/>
<rect x="141" y="323" width="1" height="103" fill="#fff"/>
<rect x="160" y="323" width="1" height="103" fill="#fff"/>
<rect x="179" y="323" width="1" height="103" fill="#fff"/>
<rect x="198" y="323" width="1" height="103" fill="#fff"/>
<rect x="217" y="323" width="1" height="103" fill="#fff"/>
<rect x="236" y="323" width="1" height="103" fill="#fff"/>
<rect x="255" y="323" width="1" height="103" fill="#fff"/>
<rect x="274" y="323" width="1" height="103" fill="#fff"/>
<rect x="293" y="323" width="1" height="103" fill="#fff"/>
<rect x="312" y="323" width="1" height="103" fill="#fff"/>
<rect x="331" y="323" width="1" height="103" fill="#fff"/>
<rect x="350" y="323" width="1" height="103" fill="#fff"/>
<rect x="369" y="323" width="1" height="103" fill="#fff"/>
<rect x="388" y="323" width="1" height="103" fill="#fff"/>
<rect x="407" y="323" width="1" height="103" fill="#fff"/>
<rect x="426" y="323" width="1" height="103" fill="#fff"/>
<rect x="445" y="323" width="1" height="103" fill="#fff"/>
<rect x="464" y="323" width="1" height="103" fill="#fff"/>
<rect x="483" y="323" width="1" height="103" fill="#fff"/>
<rect x="502" y="323" width="1" height="103" fill="#fff"/>
<rect x="521" y="323" width="1" height="103" fill="#fff"/>
<rect x="540" y="323" width="1" height="103" fill="#fff"/>
<rect x="559" y="323" width="1" height="103" fill="#fff"/>
<rect x="578" y="323" width="1" height="103" fill="#fff"/>
<rect x="597" y="323" width="1" height="103" fill="#fff"/>
<rect x="616" y="323" width="1" height="103" fill="#fff"/>
<rect x="635" y="323" width="1" height="103" fill="#fff"/>
<rect x="654" y="323" width="1" height="103" fill="#fff"/>
<rect x="673" y="323" width="1" height="103" fill="#fff"/>
<rect x="692" y="323" width="1" height="103" fill="#fff"/>
<rect x="711" y="323" width="1" height="103" fill="#fff"/>
<rect x="730" y="323" width="1" height="103" fill="#fff"/>
<rect x="749" y="323" width="1" height="103" fill="#fff"/>
<rect x="768" y="323" width="1" height="103" fill="#fff"/>
<rect x="787" y="323" width="1" height="103" fill="#fff"/>
<rect x="806" y="323" width="1" height="103" fill="#fff"/>
<rect x="27" y="323" width="779" height="1" fill="#fff"/>
<rect x="27" y="344" width="779" height="1" fill="#fff"/>
<rect x="27" y="364" width="779" height="1" fill="#fff"/>
<rect x="27" y="385" width="779" height="1" fill="#fff"/>
<rect x="27" y="406" width="779" height="1" fill="#fff"/>
<rect x="636" y="427" width="18" height="19" fill="#92d9f4"/>
<path d="M643,446 L645,443.5 L647,446 Z" fill="#fff" shape-rendering="auto"/>
<rect x="464" y="429" width="1" height="29" fill="#5a5a5a"/>
<rect x="27" y="458" width="589" height="1" fill="#e4e4e4"/>
</g>
<text x="36.6" y="441" font-size="9.5" fill="#444" stroke="#444" stroke-width="0.12" font-family="DejaVu Sans Condensed, DejaVu Sans, Liberation Sans, sans-serif" textLength="10.1" lengthAdjust="spacingAndGlyphs" text-anchor="middle">08</text>
<text x="55.6" y="441" font-size="9.5" fill="#444" stroke="#444" stroke-width="0.12" font-family="DejaVu Sans Condensed, DejaVu Sans, Liberation Sans, sans-serif" textLength="10.1" lengthAdjust="spacingAndGlyphs" text-anchor="middle">09</text>
<text x="74.6" y="441" font-size="9.5" fill="#444" stroke="#444" stroke-width="0.12" font-family="DejaVu Sans Condensed, DejaVu Sans, Liberation Sans, sans-serif" textLength="10.1" lengthAdjust="spacingAndGlyphs" text-anchor="middle">10</text>
<text x="93.6" y="441" font-size="9.5" fill="#d83d6c" stroke="#d83d6c" stroke-width="0.12" font-family="DejaVu Sans Condensed, DejaVu Sans, Liberation Sans, sans-serif" textLength="10.1" lengthAdjust="spacingAndGlyphs" text-anchor="middle">11</text>
<text x="112.6" y="441" font-size="9.5" fill="#d83d6c" stroke="#d83d6c" stroke-width="0.12" font-family="DejaVu Sans Condensed, DejaVu Sans, Liberation Sans, sans-serif" textLength="10.1" lengthAdjust="spacingAndGlyphs" text-anchor="middle">12</text>
<text x="131.6" y="441" font-size="9.5" fill="#444" stroke="#444" stroke-width="0.12" font-family="DejaVu Sans Condensed, DejaVu Sans, Liberation Sans, sans-serif" textLength="10.1" lengthAdjust="spacingAndGlyphs" text-anchor="middle">13</text>
<text x="150.6" y="441" font-size="9.5" fill="#444" stroke="#444" stroke-width="0.12" font-family="DejaVu Sans Condensed, DejaVu Sans, Liberation Sans, sans-serif" textLength="10.1" lengthAdjust="spacingAndGlyphs" text-anchor="middle">14</text>
<text x="169.6" y="441" font-size="9.5" fill="#444" stroke="#444" stroke-width="0.12" font-family="DejaVu Sans Condensed, DejaVu Sans, Liberation Sans, sans-serif" textLength="10.1" lengthAdjust="spacingAndGlyphs" text-anchor="middle">15</text>
<text x="188.6" y="441" font-size="9.5" fill="#444" stroke="#444" stroke-width="0.12" font-family="DejaVu Sans Condensed, DejaVu Sans, Liberation Sans, sans-serif" textLength="10.1" lengthAdjust="spacingAndGlyphs" text-anchor="middle">16</text>
<text x="207.6" y="441" font-size="9.5" fill="#444" stroke="#444" stroke-width="0.12" font-family="DejaVu Sans Condensed, DejaVu Sans, Liberation Sans, sans-serif" textLength="10.1" lengthAdjust="spacingAndGlyphs" text-anchor="middle">17</text>
<text x="226.6" y="441" font-size="9.5" fill="#d83d6c" stroke="#d83d6c" stroke-width="0.12" font-family="DejaVu Sans Condensed, DejaVu Sans, Liberation Sans, sans-serif" textLength="10.1" lengthAdjust="spacingAndGlyphs" text-anchor="middle">18</text>
<text x="245.6" y="441" font-size="9.5" fill="#d83d6c" stroke="#d83d6c" stroke-width="0.12" font-family="DejaVu Sans Condensed, DejaVu Sans, Liberation Sans, sans-serif" textLength="10.1" lengthAdjust="spacingAndGlyphs" text-anchor="middle">19</text>
<text x="264.6" y="441" font-size="9.5" fill="#444" stroke="#444" stroke-width="0.12" font-family="DejaVu Sans Condensed, DejaVu Sans, Liberation Sans, sans-serif" textLength="10.1" lengthAdjust="spacingAndGlyphs" text-anchor="middle">20</text>
<text x="283.6" y="441" font-size="9.5" fill="#444" stroke="#444" stroke-width="0.12" font-family="DejaVu Sans Condensed, DejaVu Sans, Liberation Sans, sans-serif" textLength="10.1" lengthAdjust="spacingAndGlyphs" text-anchor="middle">21</text>
<text x="302.6" y="441" font-size="9.5" fill="#444" stroke="#444" stroke-width="0.12" font-family="DejaVu Sans Condensed, DejaVu Sans, Liberation Sans, sans-serif" textLength="10.1" lengthAdjust="spacingAndGlyphs" text-anchor="middle">22</text>
<text x="321.6" y="441" font-size="9.5" fill="#444" stroke="#444" stroke-width="0.12" font-family="DejaVu Sans Condensed, DejaVu Sans, Liberation Sans, sans-serif" textLength="10.1" lengthAdjust="spacingAndGlyphs" text-anchor="middle">23</text>
<text x="340.6" y="441" font-size="9.5" fill="#444" stroke="#444" stroke-width="0.12" font-family="DejaVu Sans Condensed, DejaVu Sans, Liberation Sans, sans-serif" textLength="10.1" lengthAdjust="spacingAndGlyphs" text-anchor="middle">24</text>
<text x="359.6" y="441" font-size="9.5" fill="#d83d6c" stroke="#d83d6c" stroke-width="0.12" font-family="DejaVu Sans Condensed, DejaVu Sans, Liberation Sans, sans-serif" textLength="10.1" lengthAdjust="spacingAndGlyphs" text-anchor="middle">25</text>
<text x="378.6" y="441" font-size="9.5" fill="#d83d6c" stroke="#d83d6c" stroke-width="0.12" font-family="DejaVu Sans Condensed, DejaVu Sans, Liberation Sans, sans-serif" textLength="10.1" lengthAdjust="spacingAndGlyphs" text-anchor="middle">26</text>
<text x="397.6" y="441" font-size="9.5" fill="#444" stroke="#444" stroke-width="0.12" font-family="DejaVu Sans Condensed, DejaVu Sans, Liberation Sans, sans-serif" textLength="10.1" lengthAdjust="spacingAndGlyphs" text-anchor="middle">27</text>
<text x="416.6" y="441" font-size="9.5" fill="#444" stroke="#444" stroke-width="0.12" font-family="DejaVu Sans Condensed, DejaVu Sans, Liberation Sans, sans-serif" textLength="10.1" lengthAdjust="spacingAndGlyphs" text-anchor="middle">28</text>
<text x="435.6" y="441" font-size="9.5" fill="#444" stroke="#444" stroke-width="0.12" font-family="DejaVu Sans Condensed, DejaVu Sans, Liberation Sans, sans-serif" textLength="10.1" lengthAdjust="spacingAndGlyphs" text-anchor="middle">29</text>
<text x="454.6" y="441" font-size="9.5" fill="#444" stroke="#444" stroke-width="0.12" font-family="DejaVu Sans Condensed, DejaVu Sans, Liberation Sans, sans-serif" textLength="10.1" lengthAdjust="spacingAndGlyphs" text-anchor="middle">30</text>
<text x="473.6" y="441" font-size="9.5" fill="#444" stroke="#444" stroke-width="0.12" font-family="DejaVu Sans Condensed, DejaVu Sans, Liberation Sans, sans-serif" textLength="10.1" lengthAdjust="spacingAndGlyphs" text-anchor="middle">01</text>
<text x="492.6" y="441" font-size="9.5" fill="#d83d6c" stroke="#d83d6c" stroke-width="0.12" font-family="DejaVu Sans Condensed, DejaVu Sans, Liberation Sans, sans-serif" textLength="10.1" lengthAdjust="spacingAndGlyphs" text-anchor="middle">02</text>
<text x="511.6" y="441" font-size="9.5" fill="#d83d6c" stroke="#d83d6c" stroke-width="0.12" font-family="DejaVu Sans Condensed, DejaVu Sans, Liberation Sans, sans-serif" textLength="10.1" lengthAdjust="spacingAndGlyphs" text-anchor="middle">03</text>
<text x="530.6" y="441" font-size="9.5" fill="#444" stroke="#444" stroke-width="0.12" font-family="DejaVu Sans Condensed, DejaVu Sans, Liberation Sans, sans-serif" textLength="10.1" lengthAdjust="spacingAndGlyphs" text-anchor="middle">04</text>
<text x="549.6" y="441" font-size="9.5" fill="#444" stroke="#444" stroke-width="0.12" font-family="DejaVu Sans Condensed, DejaVu Sans, Liberation Sans, sans-serif" textLength="10.1" lengthAdjust="spacingAndGlyphs" text-anchor="middle">05</text>
<text x="568.6" y="441" font-size="9.5" fill="#444" stroke="#444" stroke-width="0.12" font-family="DejaVu Sans Condensed, DejaVu Sans, Liberation Sans, sans-serif" textLength="10.1" lengthAdjust="spacingAndGlyphs" text-anchor="middle">06</text>
<text x="587.6" y="441" font-size="9.5" fill="#444" stroke="#444" stroke-width="0.12" font-family="DejaVu Sans Condensed, DejaVu Sans, Liberation Sans, sans-serif" textLength="10.1" lengthAdjust="spacingAndGlyphs" text-anchor="middle">07</text>
<text x="606.6" y="441" font-size="9.5" fill="#444" stroke="#444" stroke-width="0.12" font-family="DejaVu Sans Condensed, DejaVu Sans, Liberation Sans, sans-serif" textLength="10.1" lengthAdjust="spacingAndGlyphs" text-anchor="middle">08</text>
<text x="625.6" y="441" font-size="9.5" fill="#d83d6c" stroke="#d83d6c" stroke-width="0.12" font-family="DejaVu Sans Condensed, DejaVu Sans, Liberation Sans, sans-serif" textLength="10.1" lengthAdjust="spacingAndGlyphs" text-anchor="middle">09</text>
<text x="638" y="440" font-size="11" fill="#3d4d5a" stroke="#3d4d5a" stroke-width="0.12" font-family="DejaVu Sans Condensed, DejaVu Sans, Liberation Sans, sans-serif" textLength="11.6" lengthAdjust="spacingAndGlyphs">10</text>
<text x="663.6" y="441" font-size="9.5" fill="#444" stroke="#444" stroke-width="0.12" font-family="DejaVu Sans Condensed, DejaVu Sans, Liberation Sans, sans-serif" textLength="10.1" lengthAdjust="spacingAndGlyphs" text-anchor="middle">11</text>
<text x="682.6" y="441" font-size="9.5" fill="#444" stroke="#444" stroke-width="0.12" font-family="DejaVu Sans Condensed, DejaVu Sans, Liberation Sans, sans-serif" textLength="10.1" lengthAdjust="spacingAndGlyphs" text-anchor="middle">12</text>
<text x="701.6" y="441" font-size="9.5" fill="#444" stroke="#444" stroke-width="0.12" font-family="DejaVu Sans Condensed, DejaVu Sans, Liberation Sans, sans-serif" textLength="10.1" lengthAdjust="spacingAndGlyphs" text-anchor="middle">13</text>
<text x="720.6" y="441" font-size="9.5" fill="#444" stroke="#444" stroke-width="0.12" font-family="DejaVu Sans Condensed, DejaVu Sans, Liberation Sans, sans-serif" textLength="10.1" lengthAdjust="spacingAndGlyphs" text-anchor="middle">14</text>
<text x="739.6" y="441" font-size="9.5" fill="#444" stroke="#444" stroke-width="0.12" font-family="DejaVu Sans Condensed, DejaVu Sans, Liberation Sans, sans-serif" textLength="10.1" lengthAdjust="spacingAndGlyphs" text-anchor="middle">15</text>
<text x="758.6" y="441" font-size="9.5" fill="#d83d6c" stroke="#d83d6c" stroke-width="0.12" font-family="DejaVu Sans Condensed, DejaVu Sans, Liberation Sans, sans-serif" textLength="10.1" lengthAdjust="spacingAndGlyphs" text-anchor="middle">16</text>
<text x="777.6" y="441" font-size="9.5" fill="#d83d6c" stroke="#d83d6c" stroke-width="0.12" font-family="DejaVu Sans Condensed, DejaVu Sans, Liberation Sans, sans-serif" textLength="10.1" lengthAdjust="spacingAndGlyphs" text-anchor="middle">17</text>
<text x="796.6" y="441" font-size="9.5" fill="#444" stroke="#444" stroke-width="0.12" font-family="DejaVu Sans Condensed, DejaVu Sans, Liberation Sans, sans-serif" textLength="10.1" lengthAdjust="spacingAndGlyphs" text-anchor="middle">18</text>
<text x="27.3" y="457" font-size="11" fill="#555" stroke="#555" stroke-width="0.12" font-family="DejaVu Sans Condensed, DejaVu Sans, Liberation Sans, sans-serif" textLength="49" lengthAdjust="spacingAndGlyphs">Сентябрь</text>
<text x="468.3" y="457" font-size="11" fill="#555" stroke="#555" stroke-width="0.12" font-family="DejaVu Sans Condensed, DejaVu Sans, Liberation Sans, sans-serif" textLength="44" lengthAdjust="spacingAndGlyphs">Октябрь</text>
<defs>
<path id="dropb" d="M0,-6.8 C1.5,-4 5.1,-1 5.1,1.8 A5.1,4.7 0 0 1 -5.1,1.8 C-5.1,-1 -1.5,-4 0,-6.8 Z"/>
<path id="drops" d="M0,-4.8 C1,-2.6 3.1,-0.4 3.1,1.7 A3.1,3 0 0 1 -3.1,1.7 C-3.1,-0.4 -1,-2.6 0,-4.8 Z"/>
<path id="heart" d="M0,5.6 C-1.6,4.2 -6.1,1.6 -6.1,-2 C-6.1,-4.2 -4.6,-5.5 -3,-5.5 C-1.7,-5.5 -0.6,-4.8 0,-3.7 C0.6,-4.8 1.7,-5.5 3,-5.5 C4.6,-5.5 6.1,-4.2 6.1,-2 C6.1,1.6 1.6,4.2 0,5.6 Z"/>
<path id="egg" d="M0,-6 C2.9,-6 5.1,-2.6 5.1,0.8 C5.1,3.9 2.9,6 0,6 C-2.9,6 -5.1,3.9 -5.1,0.8 C-5.1,-2.6 -2.9,-6 0,-6 Z"/>
<path id="cream" d="M-5,-5.6 C-0.5,-5.9 4.9,-3.2 4.9,0.9 C4.9,3.6 2.9,5.6 0.3,5.6 C-2,5.6 -3.7,3.9 -3.7,1.9 C-3.7,0 -2.4,-1.1 -1.1,-1.5 C-1.4,-3.2 -3,-4.6 -5,-5.6 Z"/>
<path id="moon" d="M-2.2,-7.4 C-5.4,-6 -7.3,-3 -7.3,0.3 C-7.3,4.4 -3.9,7.6 0.2,7.6 C3.2,7.6 5.8,6 7,3.4 C5.9,3.8 4.9,3.9 3.8,3.9 C0,3.9 -2.9,1 -2.9,-2.8 C-2.9,-4.5 -2.7,-6 -2.2,-7.4 Z"/>
</defs>
<use href="#moon" x="0" y="0" fill="#f7931e" stroke="#f3a94a" stroke-width="0.5" transform="translate(417.7,290.6) scale(0.95)"/>
<use href="#dropb" x="37" y="334.3" fill="#f6404a"/>
<use href="#dropb" x="56" y="334.3" fill="#f6404a"/>
<use href="#dropb" x="75" y="334.3" fill="#f6404a"/>
<use href="#drops" x="94" y="334" fill="#f6404a"/>
<use href="#drops" x="113" y="334" fill="#f6404a"/>
<use href="#heart" x="284" y="375.5" fill="#fb55b0"/>
<use href="#heart" x="303" y="375.5" fill="#fb55b0"/>
<use href="#heart" x="379" y="375.5" fill="#fb55b0"/>
<use href="#heart" x="455" y="375.5" fill="#fb55b0"/>
<use href="#heart" x="512" y="375.5" fill="#fb55b0"/>
<use href="#heart" x="550" y="375.5" fill="#fb55b0"/>
<use href="#egg" x="341" y="417" fill="#74bbee"/>
<use href="#egg" x="360" y="417" fill="#74bbee"/>
<use href="#egg" x="531" y="417" fill="#74bbee"/>
<use href="#egg" x="588" y="417" fill="#74bbee"/>
<use href="#cream" x="549.7" y="417" fill="#74bbee"/>
<text x="31.0" y="489.5" font-size="11.3" fill="#1c1c1c" stroke="#1c1c1c" stroke-width="0.25" font-family="Liberation Sans, sans-serif" textLength="69.5" lengthAdjust="spacingAndGlyphs" font-weight="bold">Менструация</text>
<text x="51.2" y="508.7" font-size="11.05" fill="#1c1c1c" stroke="#1c1c1c" stroke-width="0.33" font-family="Liberation Sans, sans-serif" textLength="62.8" lengthAdjust="spacingAndGlyphs">Менструация</text>
<text x="51.2" y="529.7" font-size="11.05" fill="#1c1c1c" stroke="#1c1c1c" stroke-width="0.33" font-family="Liberation Sans, sans-serif" textLength="110.0" lengthAdjust="spacingAndGlyphs">Небольшие выделения</text>
<use href="#dropb" x="38.7" y="504.8" fill="#f6404a" transform="translate(38.7,504.8) scale(0.92) translate(-38.7,-504.8)"/>
<use href="#drops" x="38.5" y="526" fill="#f6404a"/>
<text x="185.29999999999998" y="489.5" font-size="11.3" fill="#1c1c1c" stroke="#1c1c1c" stroke-width="0.25" font-family="Liberation Sans, sans-serif" textLength="91.4" lengthAdjust="spacingAndGlyphs" font-weight="bold">Тест на овуляцию</text>
<text x="205.0" y="508.7" font-size="11.05" fill="#1c1c1c" stroke="#1c1c1c" stroke-width="0.33" font-family="Liberation Sans, sans-serif" textLength="77.1" lengthAdjust="spacingAndGlyphs">Положительный</text>
<text x="205.0" y="530.3" font-size="11.05" fill="#1c1c1c" stroke="#1c1c1c" stroke-width="0.33" font-family="Liberation Sans, sans-serif" textLength="74.6" lengthAdjust="spacingAndGlyphs">Отрицательный</text>
<circle cx="191.9" cy="505.3" r="7" fill="#fdd644"/>
<circle cx="191.9" cy="525.3" r="6.3" fill="#fffefa" stroke="#f3dd85" stroke-width="1"/>
<text x="315.3" y="489.5" font-size="11.3" fill="#1c1c1c" stroke="#1c1c1c" stroke-width="0.25" font-family="Liberation Sans, sans-serif" textLength="113.6" lengthAdjust="spacingAndGlyphs" font-weight="bold">Тест на беременность</text>
<text x="335.0" y="508.7" font-size="11.05" fill="#1c1c1c" stroke="#1c1c1c" stroke-width="0.33" font-family="Liberation Sans, sans-serif" textLength="77.1" lengthAdjust="spacingAndGlyphs">Положительный</text>
<text x="335.0" y="530.3" font-size="11.05" fill="#1c1c1c" stroke="#1c1c1c" stroke-width="0.33" font-family="Liberation Sans, sans-serif" textLength="74.6" lengthAdjust="spacingAndGlyphs">Отрицательный</text>
<text x="335.0" y="549.5" font-size="11.05" fill="#1c1c1c" stroke="#1c1c1c" stroke-width="0.33" font-family="Liberation Sans, sans-serif" textLength="104.0" lengthAdjust="spacingAndGlyphs">Слабоположительный</text>
<rect x="316.9" y="498.4" width="3.2" height="12.6" rx="1.6" fill="#96bb28"/>
<rect x="325.2" y="498.4" width="3.2" height="12.6" rx="1.6" fill="#96bb28"/>
<rect x="321.0" y="518.9000000000001" width="3.2" height="12.6" rx="1.6" fill="#96bb28"/>
<rect x="316.9" y="539.2" width="3.2" height="12.6" rx="1.6" fill="#96bb28"/>
<rect x="325.2" y="539.2" width="3.2" height="12.6" rx="1.6" fill="#dbe6bf"/>
<text x="470.8" y="489.5" font-size="11.3" fill="#1c1c1c" stroke="#1c1c1c" stroke-width="0.25" font-family="Liberation Sans, sans-serif" textLength="128.8" lengthAdjust="spacingAndGlyphs" font-weight="bold">Цервикальная жидкость</text>
<text x="491.90000000000003" y="510.9" font-size="11.05" fill="#1c1c1c" stroke="#1c1c1c" stroke-width="0.33" font-family="Liberation Sans, sans-serif" textLength="22.7" lengthAdjust="spacingAndGlyphs">Сухо</text>
<text x="491.90000000000003" y="532.5" font-size="11.05" fill="#1c1c1c" stroke="#1c1c1c" stroke-width="0.33" font-family="Liberation Sans, sans-serif" textLength="39.7" lengthAdjust="spacingAndGlyphs">Клейкая</text>
<text x="491.90000000000003" y="551.5" font-size="11.05" fill="#1c1c1c" stroke="#1c1c1c" stroke-width="0.33" font-family="Liberation Sans, sans-serif" textLength="76.2" lengthAdjust="spacingAndGlyphs">Кремообразная</text>
<text x="491.90000000000003" y="571.6" font-size="11.05" fill="#1c1c1c" stroke="#1c1c1c" stroke-width="0.33" font-family="Liberation Sans, sans-serif" textLength="55.4" lengthAdjust="spacingAndGlyphs">Водянистая</text>
<text x="491.90000000000003" y="591.6" font-size="11.05" fill="#1c1c1c" stroke="#1c1c1c" stroke-width="0.33" font-family="Liberation Sans, sans-serif" textLength="67.9" lengthAdjust="spacingAndGlyphs">Яичный белок</text>
<path d="M479.4,502.6 C481,504 483.8,506 483.8,508.8 C483.8,511 481.9,512.5 479.4,512.5 C476.9,512.5 475.2,511 475.2,508.8 C475.2,506 477.8,504 479.4,502.6 Z" fill="#f6fbff" stroke="#8eabc8" stroke-width="0.85"/>
<path d="M475.2,523.2 H483.6 C481.4,524.4 480.1,525.8 479.95,528.6 C480.1,531.2 481.5,532.8 483.9,534 H474.9 C477.3,532.8 478.7,531.2 478.85,528.6 C478.7,525.8 477.4,524.4 475.2,523.2 Z" fill="#74b4e4"/>
<use href="#cream" x="479.3" y="548.7" fill="#74bbee"/>
<path d="M479.4,560.2 C480.3,562.6 484,565.6 484,568.6 C484,571 482,572.8 479.5,572.8 C477,572.8 475.1,571 475.1,568.6 C475.1,565.6 478.6,562.6 479.4,560.2 Z" fill="#74bbee"/>
<use href="#egg" x="0" y="0" fill="#74bbee" transform="translate(479.5,586.9) scale(0.88,0.98)"/>
<use href="#heart" x="0" y="0" fill="#fb55b0" transform="translate(37.5,587.6) scale(1.13,1.06)"/>
<text x="51.1" y="591.7" font-size="11.8" fill="#1c1c1c" stroke="#1c1c1c" stroke-width="0.33" font-family="Liberation Sans, sans-serif" textLength="60.3" lengthAdjust="spacingAndGlyphs">Половой акт</text>
<circle cx="139" cy="587.9" r="7" fill="#c8c8c8"/>
<line x1="135.9" y1="591.5" x2="142.1" y2="584.3" stroke="#fff" stroke-width="2.2" stroke-linecap="round"/>
<text x="150.79999999999998" y="591.7" font-size="11.8" fill="#1c1c1c" stroke="#1c1c1c" stroke-width="0.33" font-family="Liberation Sans, sans-serif" textLength="78.0" lengthAdjust="spacingAndGlyphs">Прием лекарств</text>
<use href="#moon" x="0" y="0" fill="#f7931e" transform="translate(259,588.8) scale(0.97)"/>
<text x="270.8" y="591.7" font-size="11.8" fill="#1c1c1c" stroke="#1c1c1c" stroke-width="0.33" font-family="Liberation Sans, sans-serif" textLength="91.0" lengthAdjust="spacingAndGlyphs">Лунный календарь</text>
</svg></body></html>
